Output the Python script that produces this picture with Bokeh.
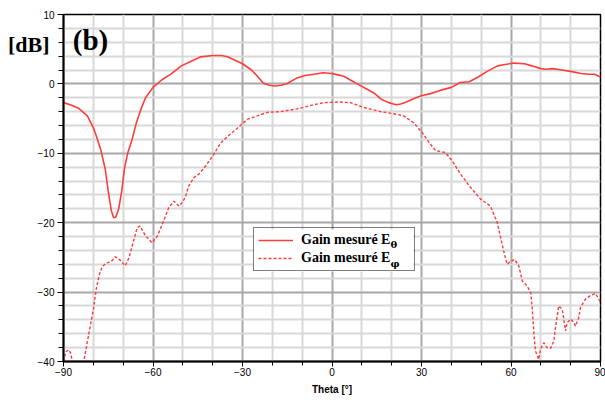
from bokeh.plotting import figure
from bokeh.models import (Range1d, FixedTicker, Legend, LegendItem, Label, LinearAxis,
                          BoxAnnotation)
from bokeh.embed import file_html
from bokeh.resources import INLINE

# Measured gain E_theta (solid)
theta_e_theta = [-90, -87, -85, -82, -80, -79, -77.5, -76, -75, -74, -73.2, -72.5, -71.5,
                 -70.5, -69.5, -68.5, -67, -65.5, -64, -62.5, -60, -57, -54, -50.5, -47,
                 -44, -40, -37, -35, -32, -30, -27, -25, -23, -21, -19, -17, -15, -12, -9,
                 -6, -3, 0, 2, 4, 6, 8.5, 11, 14, 16.5, 19, 21.5, 23, 25, 27.5, 30, 33,
                 36.5, 40, 43, 46, 49, 52, 55.5, 58, 61, 64.5, 67, 70, 72, 74, 77, 80,
                 83.5, 86, 88, 90]
gain_e_theta = [-2.7, -3.1, -3.5, -4.6, -6.3, -7.5, -9.5, -12.3, -15.5, -18.2, -19.3, -19.2,
                -18.0, -15.5, -12.0, -10.0, -8.0, -5.5, -3.6, -2.0, -0.5, 0.6, 1.4, 2.6,
                3.3, 3.9, 4.1, 4.1, 3.9, 3.3, 2.9, 2.0, 1.1, 0.1, -0.2, -0.3, -0.2, 0.05,
                0.8, 1.2, 1.4, 1.6, 1.5, 1.3, 1.1, 0.6, 0.0, -0.6, -1.3, -2.2, -2.7, -3.0,
                -2.9, -2.6, -2.1, -1.7, -1.4, -0.9, -0.5, 0.2, 0.3, 1.0, 1.8, 2.6, 2.8,
                3.0, 2.9, 2.6, 2.2, 2.1, 2.2, 2.0, 1.8, 1.5, 1.4, 1.4, 1.0]

# Measured gain E_phi (dashed)
theta_e_phi = [-90, -89.2, -88.3, -87.6, -87, -83.2, -81.5, -80, -79, -78, -77, -75.5, -74,
               -72.6, -71, -69.3, -68, -66.5, -65.3, -64.3, -62.5, -60.3, -58.5, -56.4,
               -54.7, -53, -51.3, -50, -49, -48, -46.3, -44.6, -42.3, -40, -37.3, -34,
               -31.2, -28.4, -25, -21.7, -17.3, -11.7, -6.1, -2.7, 1.8, 6.2, 10.7, 16.3,
               20.7, 24, 27.4, 30.2, 33, 34.7, 38, 40.3, 43.1, 46.4, 49.8, 53.1, 55.4,
               56.5, 57.5, 58.7, 59.8, 61.2, 62.6, 63.8, 65.4, 66.6, 67.1, 67.7, 68.2,
               69.3, 69.9, 71, 72.1, 73.3, 74.4, 74.9, 76, 77.2, 77.8, 78.3, 78.8, 80,
               81.1, 81.6, 82.7, 83.3, 85, 86.6, 88.3, 89.4, 90]
gain_e_phi = [-40, -38.6, -38.3, -38.8, -40, -40, -36, -32.5, -29.5, -27.5, -26.3, -25.8,
              -25.6, -24.9, -25.4, -26.2, -25, -22.6, -20.7, -20.5, -21.9, -22.9, -21.9,
              -19.7, -17.8, -16.9, -17.6, -17.0, -16.1, -14.7, -13.5, -13.0, -11.8, -10.4,
              -8.5, -7.2, -6.2, -5.1, -4.6, -4.1, -4.0, -3.6, -3.0, -2.7, -2.6, -2.7, -3.4,
              -4.0, -4.3, -4.6, -5.6, -7.0, -8.7, -9.6, -9.9, -11.1, -13.0, -14.9, -16.6,
              -17.6, -20, -22.1, -24, -26, -25.6, -25.3, -26.2, -28.4, -29.1, -30.1, -32.2,
              -36.1, -38.5, -39.7, -38.2, -37.3, -38, -38.1, -37, -35.1, -32, -32.5, -34.2,
              -35.6, -34.4, -33.9, -34.4, -34.9, -33.7, -32.2, -31, -30.5, -30.2, -31, -31.5]

x_major = [-90, -60, -30, 0, 30, 60, 90]
x_minor = [-80, -70, -50, -40, -20, -10, 10, 20, 40, 50, 70, 80]
y_major = [-40, -30, -20, -10, 0, 10]
y_minor = [-38, -36, -34, -32, -28, -26, -24, -22, -18, -16, -14, -12,
           -8, -6, -4, -2, 2, 4, 6, 8]

legend_labels = ["Gain mesuré E", "Gain mesuré E"]
legend_subs = ["θ", "φ"]
unit_text = "[dB]"
unit_at = 5.7   # level of the unit caption on the dB scale
panel_tag = "(b)"

p = figure(width=605, height=400, output_backend="svg", toolbar_location=None,
           x_range=Range1d(-90, 90), y_range=Range1d(-40, 10),
           min_border_left=63, min_border_right=5, min_border_top=14,
           min_border_bottom=39)
p.background_fill_color = "white"
p.border_fill_color = "white"
p.outline_line_color = "black"
p.outline_line_width = 1.5

xt = FixedTicker(ticks=x_major, minor_ticks=x_minor)
yt = FixedTicker(ticks=y_major, minor_ticks=y_minor)
p.xaxis.ticker = xt
p.yaxis.ticker = yt
p.xgrid.ticker = xt
p.ygrid.ticker = yt

for g in (p.xgrid, p.ygrid):
    g.grid_line_color = "#a8a8a8"
    g.grid_line_width = 2
    g.minor_grid_line_color = "#d8d8d8"
    g.minor_grid_line_width = 2

for ax in (p.xaxis, p.yaxis):
    ax.axis_line_color = "black"
    ax.axis_line_width = 2
    ax.major_tick_line_color = "black"
    ax.minor_tick_line_color = "black"
    ax.major_tick_in = 0
    ax.minor_tick_in = 0
    ax.major_label_text_font = "Liberation Sans"
    ax.major_label_text_font_size = "10px"
    ax.major_label_text_color = "black"

p.xaxis.major_tick_out = 5
p.xaxis.minor_tick_out = 4
p.xaxis.major_label_standoff = 1
p.xaxis.axis_label = "Theta [°]"
p.xaxis.axis_label_text_font = "Liberation Sans"
p.xaxis.axis_label_text_font_size = "10px"
p.xaxis.axis_label_text_font_style = "bold"
p.xaxis.axis_label_text_color = "black"
p.xaxis.axis_label_standoff = 5

p.yaxis.major_tick_out = 6
p.yaxis.minor_tick_out = 5
p.yaxis.major_label_standoff = 3

# second (invisible) left axis carrying only the unit caption "[dB]"
unit_axis = LinearAxis(ticker=FixedTicker(ticks=[unit_at], minor_ticks=[]),
                       major_label_overrides={unit_at: unit_text},
                       axis_line_color=None, major_tick_line_color=None,
                       minor_tick_line_color=None, major_tick_out=0, major_tick_in=0,
                       minor_tick_out=0, minor_tick_in=0, major_label_standoff=-15,
                       major_label_text_font="Liberation Serif",
                       major_label_text_font_style="bold",
                       major_label_text_font_size="22px",
                       major_label_text_color="black")
p.add_layout(unit_axis, "left")

r1 = p.line(theta_e_theta, gain_e_theta, line_color="#ff3c3c", line_width=1.6)
r2 = p.line(theta_e_phi, gain_e_phi, line_color="#ff3c3c", line_width=1.4, line_dash="3 2")

# white backing of the legend box (legend itself transparent so subscripts show)
p.add_layout(BoxAnnotation(left=190, right=350, bottom=90, top=132,
                           left_units="screen", right_units="screen",
                           bottom_units="screen", top_units="screen",
                           fill_color="white", fill_alpha=1.0, line_color=None))

legend = Legend(items=[LegendItem(label=legend_labels[0], renderers=[r1]),
                       LegendItem(label=legend_labels[1], renderers=[r2])],
                location=(190, 90), orientation="vertical", margin=0,
                glyph_width=35, glyph_height=16, label_height=16, label_width=109,
                label_standoff=8, padding=4, spacing=2,
                border_line_color="black", border_line_width=1.5,
                background_fill_alpha=0.0,
                label_text_font="Liberation Serif", label_text_font_style="bold",
                label_text_font_size="14px", label_text_color="black")
p.add_layout(legend)

for txt, yy in zip(legend_subs, (117, 98.5)):
    p.add_layout(Label(x=327, y=yy, x_units="screen", y_units="screen", text=txt,
                       text_font="DejaVu Serif", text_font_style="bold",
                       text_font_size="10px", text_align="left", text_baseline="middle",
                       text_color="black"))

p.add_layout(Label(x=27, y=321.5, x_units="screen", y_units="screen", text=panel_tag,
                   text_font="Liberation Serif", text_font_style="bold",
                   text_font_size="29px", text_align="center", text_baseline="middle",
                   text_color="black"))

open("out.html", "w").write(file_html(p, INLINE))
